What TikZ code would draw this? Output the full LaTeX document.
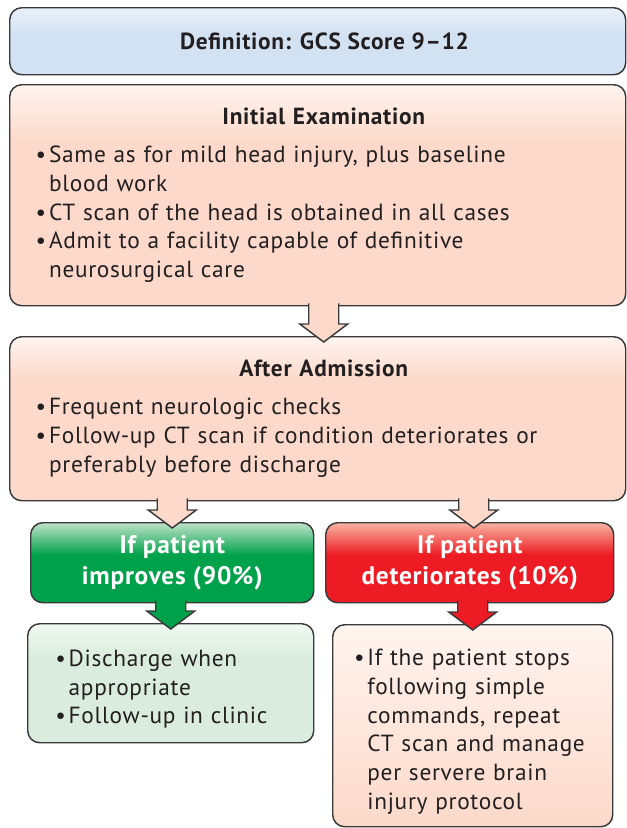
\documentclass[tikz,border=0pt]{standalone}
\usepackage{fontspec}
\setmainfont{PT Sans}[LetterSpace=3]
\usetikzlibrary{calc}

\definecolor{ink}{HTML}{231F20}
\definecolor{edge}{HTML}{3A3A3A}
\definecolor{sky}{HTML}{D3E2F2}
\definecolor{skytop}{HTML}{E8F0F9}
\definecolor{peach}{HTML}{FCD9CA}
\definecolor{peachtop}{HTML}{FFF4EF}
\definecolor{mint}{HTML}{D9ECDD}
\definecolor{minttop}{HTML}{EFF8F1}
\definecolor{okgreen}{HTML}{00A14B}
\definecolor{okgreentop}{HTML}{BFE3C9}
\definecolor{alarm}{HTML}{ED1C24}
\definecolor{alarmtop}{HTML}{F8B4A2}

% fades: light at the top of each box
\pgfdeclareverticalshading{skyfade}{100bp}{color(0bp)=(sky); color(25bp)=(sky); color(55bp)=(sky); color(75bp)=(skytop); color(100bp)=(skytop)}
\pgfdeclareverticalshading{peachfade}{100bp}{color(0bp)=(peach); color(25bp)=(peach); color(62bp)=(peach); color(75bp)=(peachtop); color(100bp)=(peachtop)}
\pgfdeclareverticalshading{softfade}{100bp}{color(0bp)=(peach); color(25bp)=(peach); color(75bp)=(peachtop); color(100bp)=(peachtop)}
\pgfdeclareverticalshading{mintfade}{100bp}{color(0bp)=(mint); color(25bp)=(mint); color(60bp)=(mint); color(75bp)=(minttop); color(100bp)=(minttop)}
\pgfdeclareverticalshading{greenfade}{100bp}{color(0bp)=(okgreen); color(25bp)=(okgreen); color(55bp)=(okgreen); color(75bp)=(okgreentop); color(100bp)=(okgreentop)}
\pgfdeclareverticalshading{redfade}{100bp}{color(0bp)=(alarm); color(25bp)=(alarm); color(55bp)=(alarm); color(75bp)=(alarmtop); color(100bp)=(alarmtop)}

\newcommand{\bul}[1]{\par\hangindent=10pt\hangafter=1\noindent\makebox[10pt][l]{\textbullet}#1\par}
\newcommand{\boxhead}[1]{{\centering\bfseries\hspace*{9pt}#1\par}\vspace{7pt}}
% block arrow: [x offset]{from}{to}{fill}
\newcommand{\flowarrow}[4][0]{%
  \filldraw[flow, fill=#4]
    ($(#2.south -| #3.north)+(#1-15,-3)$) -- ($(#3.north)+(#1-15,-12)$)
    -- ($(#3.north)+(#1-24,-12)$) -- ($(#3.north)+(#1,6)$)
    -- ($(#3.north)+(#1+24,-12)$) -- ($(#3.north)+(#1+15,-12)$)
    -- ($(#2.south -| #3.north)+(#1+15,-3)$);}

\tikzset{
  card/.style={draw=edge, line width=1.1pt, rounded corners=9pt, anchor=north west,
    inner sep=0pt, text=ink, align=left, shade},
  flow/.style={draw=edge, line width=1.1pt, line join=miter},
  choice/.style={card, align=center, text=white, font=\fontsize{19}{23}\selectfont\bfseries}
}

\begin{document}
\begin{tikzpicture}[x=0.75pt, y=-0.75pt, font=\fontsize{17.5}{21.5}\selectfont]
\useasboundingbox (0,0) rectangle (626,828);

\node[card, shading=skyfade, align=center, minimum width=462pt, minimum height=50.25pt] (def) at (9,7)
  {\bfseries\hspace*{10pt}Definition: GCS Score 9--12};

\node[card, shading=peachfade, text width=423pt, minimum width=462pt, minimum height=165.75pt] (init) at (9,84)
  {\boxhead{Initial Examination}
   \bul{Same as for mild head injury, plus baseline\newline blood work}
   \bul{CT scan of the head is obtained in all cases}
   \bul{Admit to a facility capable of definitive\newline neurosurgical care}};

\node[card, shading=peachfade, text width=423pt, minimum width=462pt, minimum height=123pt] (admit) at (9,336)
  {\boxhead{After Admission}
   \bul{Frequent neurologic checks}
   \bul{Follow-up CT scan if condition deteriorates or\newline preferably before discharge}};

\node[choice, shading=greenfade, minimum width=212.25pt, minimum height=60pt] (better) at (30,522)
  {If patient\\improves (90\%)};
\node[choice, shading=redfade, minimum width=216pt, minimum height=60pt] (worse) at (325,522)
  {If patient\\deteriorates (10\%)};

\node[card, shading=mintfade, text width=173pt, minimum width=214.5pt, minimum height=89.25pt] (discharge) at (27,623)
  {\bul{Discharge when\newline appropriate}
   \bul{Follow-up in clinic}};
\node[card, shading=softfade, text width=178pt, minimum width=210pt, minimum height=151.5pt] (protocol) at (332,624)
  {\bul{If the patient stops\newline following simple\newline commands, repeat\newline CT scan and manage\newline per servere brain\newline injury protocol}};

\flowarrow[6]{init}{admit}{peach}
\flowarrow{admit}{better}{peach}
\flowarrow[4]{admit}{worse}{peach}
\flowarrow{better}{discharge}{okgreen}
\flowarrow{worse}{protocol}{alarm}
\end{tikzpicture}
\end{document}
